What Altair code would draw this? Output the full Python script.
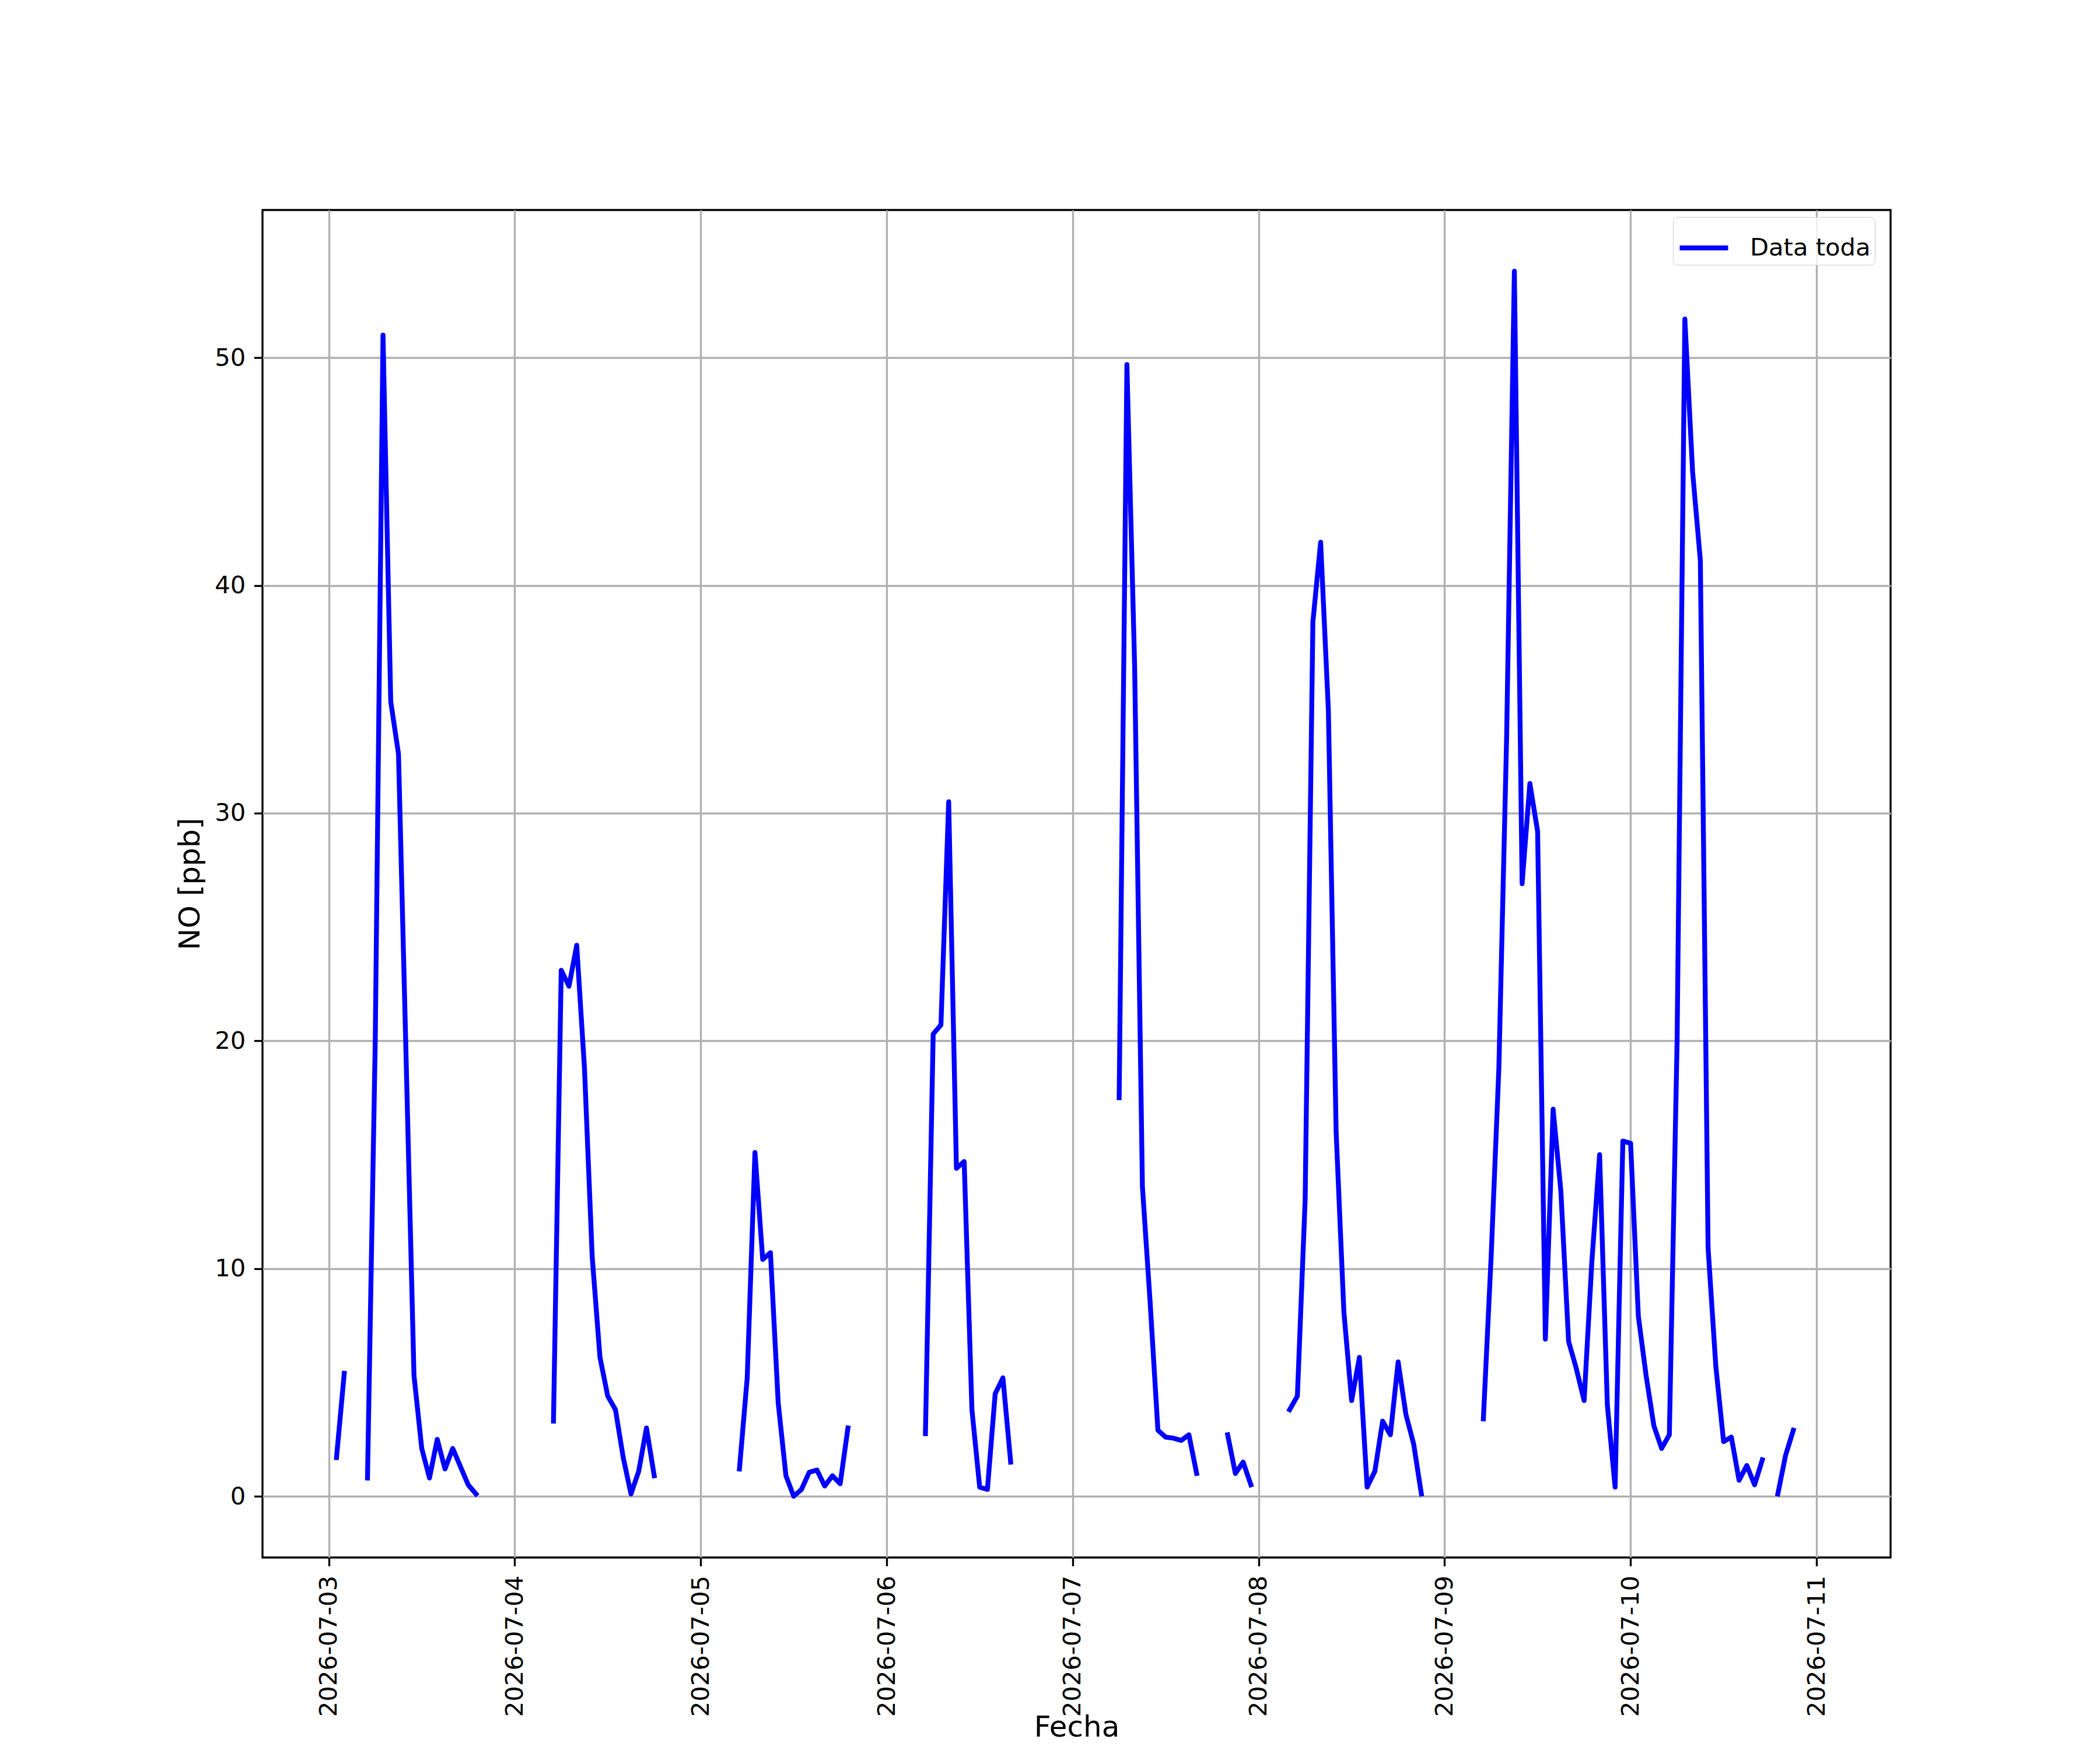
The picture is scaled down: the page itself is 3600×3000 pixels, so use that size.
import altair as alt
import pandas as pd

# Hourly NO values (ppb) per day, hour 0..23; None = missing
d0703 = [None, 1.7, 5.4, None, None, 0.8, 20.0, 51.0, 34.9, 32.6, 19.0, 5.3,
         2.1, 0.8, 2.5, 1.2, 2.1, 1.3, 0.5, 0.1, None, None, None, None]
d0704 = [None, None, None, None, None, 3.3, 23.1, 22.4, 24.2, 18.8, 10.5, 6.1,
         4.4, 3.8, 1.7, 0.1, 1.1, 3.0, 0.9, None, None, None, None, None]
d0705 = [None, None, None, None, None, 1.2, 5.2, 15.1, 10.4, 10.7, 4.1, 0.9,
         0.0, 0.3, 1.05, 1.15, 0.45, 0.9, 0.55, 3.0, None, None, None, None]
d0706 = [None, None, None, None, None, 2.75, 20.3, 20.7, 30.5, 14.4, 14.7, 3.8,
         0.4, 0.3, 4.5, 5.2, 1.5, None, None, None, None, None, None, None]
d0707 = [None, None, None, None, None, None, 17.5, 49.7, 36.4, 13.6, 8.5, 2.9,
         2.6, 2.55, 2.45, 2.7, 1.0, None, None, None, 2.7, 1.0, 1.5, 0.5]
d0708 = [None, None, None, None, 3.8, 4.4, 13.0, 38.4, 41.9, 34.5, 16.0, 8.1,
         4.2, 6.1, 0.4, 1.1, 3.3, 2.7, 5.9, 3.6, 2.3, 0.1, None, None]
d0709 = [None, None, None, None, None, 3.4, 10.5, 18.8, 33.3, 53.8, 26.9, 31.3,
         29.2, 6.9, 17.0, 13.4, 6.8, 5.6, 4.2, 10.3, 15.0, 4.0, 0.4, 15.6]
d0710 = [15.5, 7.9, 5.3, 3.1, 2.1, 2.7, 20.0, 51.7, 45.0, 41.1, 10.9, 5.7,
         2.4, 2.6, 0.7, 1.35, 0.5, 1.6, None, 0.1, 1.8, 2.9, None, None]

days = ["2026-07-03", "2026-07-04", "2026-07-05", "2026-07-06",
        "2026-07-07", "2026-07-08", "2026-07-09", "2026-07-10"]
series = [d0703, d0704, d0705, d0706, d0707, d0708, d0709, d0710]
tick_days = [3, 4, 5, 6, 7, 8, 9, 10, 11]
y_ticks = [0, 10, 20, 30, 40, 50]
label = "Data toda"

rows = []
seg = 0
prev_valid = False
for day, vals in zip(days, series):
    for h, v in enumerate(vals):
        if v is None:
            prev_valid = False
            continue
        if not prev_valid:
            seg += 1
        prev_valid = True
        rows.append({"fecha": f"{day}T{h:02d}:00:00", "no": v, "seg": seg, "serie": label})
df = pd.DataFrame(rows)

FONT = "DejaVu Sans"
LW = 8.33

x_axis = alt.Axis(
    values=[alt.DateTime(year=2026, month=7, date=d) for d in tick_days],
    format="%Y-%m-%d", labelAngle=270, labelAlign="right", labelBaseline="middle",
    labelPadding=16, labelFontSize=41.67, labelFont=FONT, labelColor="black",
    labelLimit=0,
    tickSize=14.6, tickWidth=3.33, tickColor="black",
    domain=False, grid=True, gridColor="#b0b0b0", gridWidth=3.33,
    title="Fecha", titleFont=FONT, titleFontSize=50, titleFontWeight="normal",
    titleColor="black", titlePadding=66, titleBaseline="top",
    labelOverlap=False, labelFlush=False,
)
y_axis = alt.Axis(
    values=y_ticks, labelPadding=14.6, labelFontSize=41.67, labelFont=FONT,
    labelColor="black", tickSize=14.6, tickWidth=3.33, tickColor="black",
    domain=False, grid=True, gridColor="#b0b0b0", gridWidth=3.33,
    title="NO [ppb]", titleFont=FONT, titleFontSize=50, titleFontWeight="normal",
    titleColor="black", titlePadding=16.7, labelFlush=False,
)

chart = alt.Chart(df).mark_line(
    strokeWidth=LW, strokeJoin="round", strokeCap="square"
).encode(
    x=alt.X("fecha:T", axis=x_axis,
            scale=alt.Scale(domain=[alt.DateTime(year=2026, month=7, date=2, hours=15, minutes=27),
                                    alt.DateTime(year=2026, month=7, date=11, hours=9, minutes=33)],
                            nice=False)),
    y=alt.Y("no:Q", axis=y_axis,
            scale=alt.Scale(domain=[-2.69, 56.49], nice=False, zero=False)),
    color=alt.Color("serie:N",
                    scale=alt.Scale(domain=[label], range=["#0000ff"]),
                    legend=alt.Legend(title=None, orient="none", legendX=2418, legendY=12,
                                      symbolType="stroke", symbolSize=6889,
                                      symbolStrokeWidth=LW, labelFontSize=41.67,
                                      labelFont=FONT, labelColor="black", padding=7,
                                      labelLimit=0,
                                      strokeColor="#cccccc", fillColor="rgba(255,255,255,0.8)",
                                      cornerRadius=8, labelOffset=33)),
    detail="seg:N",
).properties(
    width=2791, height=2310,
    autosize=alt.AutoSizeParams(type="none"),
    padding={"left": 442, "top": 352, "right": 351, "bottom": 322},
    background="white",
).configure_view(
    stroke="black", strokeWidth=3.33
)

chart.save("out.html", embed_options={"renderer": "svg", "actions": False})
